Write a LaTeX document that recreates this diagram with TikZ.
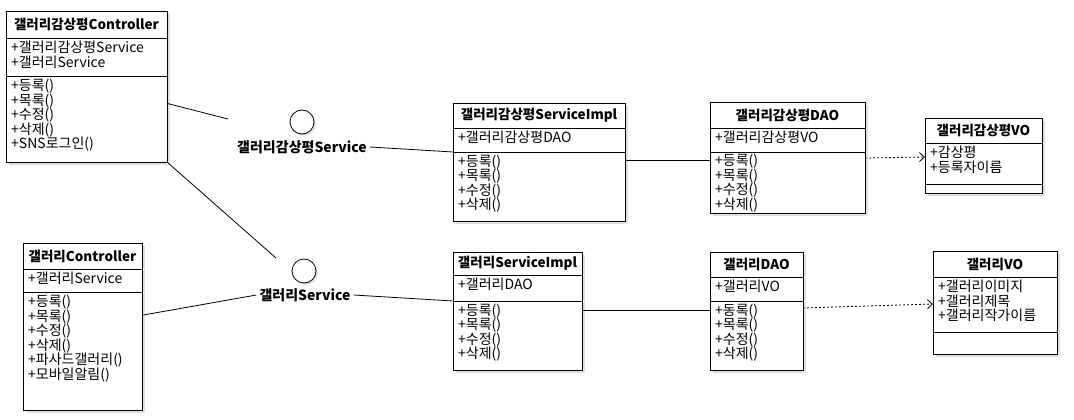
\documentclass[tikz,border=0pt]{standalone}
\usepackage{fontspec}
\setmainfont{Noto Sans CJK KR}
\usetikzlibrary{arrows.meta,positioning,shadows}

\begin{document}
\begin{tikzpicture}[x=1pt,y=-1pt,
  box/.style={draw,line width=0.8pt,fill=white,inner sep=0pt,outer sep=0pt,
    drop shadow={shadow xshift=2.5pt,shadow yshift=-2.5pt,fill=black!12,opacity=1}},
  ctitle/.style={box,font=\fontsize{13.5}{14.5}\selectfont\bfseries},
  members/.style={anchor=north west,align=left,inner sep=0pt,font=\fontsize{14}{14.5}\selectfont},
  iface/.style={circle,draw,line width=0.8pt,fill=white,minimum size=24pt,inner sep=0pt,
    drop shadow={shadow xshift=2pt,shadow yshift=-2pt,fill=black!12,opacity=1}},
  ilabel/.style={font=\fontsize{14}{14.5}\selectfont\bfseries,inner sep=3pt},
  link/.style={line width=0.8pt},
  dep/.style={line width=0.8pt,dash pattern=on 2pt off 2pt,-{Straight Barb[length=5pt,width=9pt]}}]
  \useasboundingbox (0,0) rectangle (1074,420);

  % controllers
  \node[ctitle,minimum width=161pt,minimum height=27pt,anchor=north west] (c1) at (6,11) {갤러리감상평Controller};
  \node[box,minimum width=161pt,minimum height=38pt,below=0pt of c1] (c1a) {};
  \node[box,minimum width=161pt,minimum height=86pt,below=0pt of c1a] (c1m) {};
  \node[members] (c1at) at ([xshift=5pt,yshift=-3pt]c1a.north west) {+갤러리감상평Service\\+갤러리Service};
  \node[members] (c1mt) at ([xshift=5pt,yshift=-3pt]c1m.north west) {+등록()\\+목록()\\+수정()\\+삭제()\\+SNS로그인()};

  \node[ctitle,minimum width=119pt,minimum height=26pt,anchor=north west] (c2) at (23,243) {갤러리Controller};
  \node[box,minimum width=119pt,minimum height=23pt,below=0pt of c2] (c2a) {};
  \node[box,minimum width=119pt,minimum height=118pt,below=0pt of c2a] (c2m) {};
  \node[members] (c2at) at ([xshift=5pt,yshift=-3pt]c2a.north west) {+갤러리Service};
  \node[members] (c2mt) at ([xshift=5pt,yshift=-3pt]c2m.north west) {+등록()\\+목록()\\+수정()\\+삭제()\\+파사드갤러리()\\+모바일알림()};

  % interfaces
  \node[iface] (s1) at (302,122) {};
  \node[ilabel] (s1l) at (302,147) {갤러리감상평Service};
  \node[iface] (s2) at (304,271) {};
  \node[ilabel] (s2l) at (305,295) {갤러리Service};

  % service impls
  \node[ctitle,minimum width=172pt,minimum height=25pt,anchor=north west] (c3) at (453,103) {갤러리감상평ServiceImpl};
  \node[box,minimum width=172pt,minimum height=24pt,below=0pt of c3] (c3a) {};
  \node[box,minimum width=172pt,minimum height=69pt,below=0pt of c3a] (c3m) {};
  \node[members] (c3at) at ([xshift=5pt,yshift=-3pt]c3a.north west) {+갤러리감상평DAO};
  \node[members] (c3mt) at ([xshift=5pt,yshift=-2.5pt]c3m.north west) {+등록()\\+목록()\\+수정()\\+삭제()};

  \node[ctitle,minimum width=129pt,minimum height=23pt,anchor=north west] (c4) at (453,252) {갤러리ServiceImpl};
  \node[box,minimum width=129pt,minimum height=26pt,below=0pt of c4] (c4a) {};
  \node[box,minimum width=129pt,minimum height=69pt,below=0pt of c4a] (c4m) {};
  \node[members] (c4at) at ([xshift=5pt,yshift=-3pt]c4a.north west) {+갤러리DAO};
  \node[members] (c4mt) at ([xshift=5pt,yshift=-2.5pt]c4m.north west) {+등록()\\+목록()\\+수정()\\+삭제()};

  % daos
  \node[ctitle,minimum width=155pt,minimum height=26pt,anchor=north west] (c5) at (710,102) {갤러리감상평DAO};
  \node[box,minimum width=155pt,minimum height=24pt,below=0pt of c5] (c5a) {};
  \node[box,minimum width=155pt,minimum height=61pt,below=0pt of c5a] (c5m) {};
  \node[members] (c5at) at ([xshift=5pt,yshift=-3pt]c5a.north west) {+갤러리감상평VO};
  \node[members] (c5mt) at ([xshift=5pt,yshift=-2pt]c5m.north west) {+등록()\\+목록()\\+수정()\\+삭제()};

  \node[ctitle,minimum width=93pt,minimum height=25pt,anchor=north west] (c6) at (710,252) {갤러리DAO};
  \node[box,minimum width=93pt,minimum height=24pt,below=0pt of c6] (c6a) {};
  \node[box,minimum width=93pt,minimum height=69pt,below=0pt of c6a] (c6m) {};
  \node[members] (c6at) at ([xshift=5pt,yshift=-3pt]c6a.north west) {+갤러리VO};
  \node[members] (c6mt) at ([xshift=5pt,yshift=-2.5pt]c6m.north west) {+동록()\\+목록()\\+수정()\\+삭제()};

  % value objects
  \node[ctitle,minimum width=117pt,minimum height=25pt,anchor=north west] (c7) at (925,118) {갤러리감상평VO};
  \node[box,minimum width=117pt,minimum height=41pt,below=0pt of c7] (c7a) {};
  \node[box,minimum width=117pt,minimum height=9pt,below=0pt of c7a] (c7m) {};
  \node[members] (c7at) at ([xshift=5pt,yshift=-3pt]c7a.north west) {+감상평\\+등록자이름};

  \node[ctitle,minimum width=124pt,minimum height=26pt,anchor=north west] (c8) at (933,251) {갤러리VO};
  \node[box,minimum width=124pt,minimum height=55pt,below=0pt of c8] (c8a) {};
  \node[box,minimum width=124pt,minimum height=22pt,below=0pt of c8a] (c8m) {};
  \node[members] (c8at) at ([xshift=5pt,yshift=-3pt]c8a.north west) {+갤러리이미지\\+갤러리제목\\+갤러리작가이름};

  % connectors
  \coordinate (s1in) at (228,119);
  \coordinate (s2in) at (276,258);
  \draw[link] (c1m.11) -- (s1in);
  \draw[link] (c1m.south east) -- (s2in);
  \draw[link] (c2m.31) -- (s2l.west);
  \draw[link] (s1l.east) -- (c3a.south west);
  \draw[link] (s2l.east) -- (c4a.south west);
  \draw[link] ([yshift=-8pt]c3m.north east) -- ([yshift=-8pt]c5m.north west);
  \draw[link] ([yshift=-9pt]c4m.north east) -- ([yshift=-9pt]c6m.north west);
  \draw[dep] ([yshift=-6pt]c5m.north east) -- ([yshift=-14pt]c7a.north west);
  \draw[dep] ([yshift=-7pt]c6m.north east) -- ([yshift=-27pt]c8a.north west);
\end{tikzpicture}
\end{document}
